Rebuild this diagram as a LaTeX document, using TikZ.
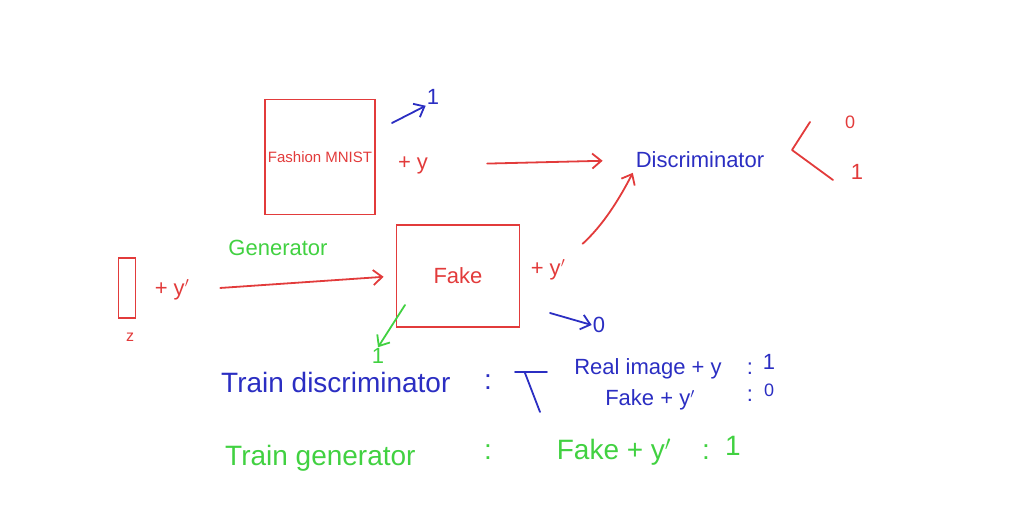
\documentclass[tikz,border=0pt]{standalone}
\usepackage{fontspec}
\setmainfont{Liberation Sans}
\usepackage{xcolor}
\definecolor{penred}{HTML}{E23B3B}
\definecolor{penblue}{HTML}{2B2EC2}
\definecolor{pengreen}{HTML}{41D141}
\usepackage{tikz}
\usetikzlibrary{arrows.meta, calc}

\begin{document}
\begin{tikzpicture}[
    x=1pt, y=-1pt,
    box/.style={draw=penred, line width=1.8pt, rectangle, inner sep=2pt},
    txt/.style={font=\fontsize{22}{26}\selectfont, inner sep=1pt},
    big/.style={font=\fontsize{28}{32}\selectfont, inner sep=1pt},
    arrow/.style={-{Straight Barb[length=9pt, width=15pt]}, line width=1.8pt, line cap=round},
    stroke/.style={line width=1.8pt, line cap=round}
  ]
    \useasboundingbox (0,0) rectangle (1024,521);

    \node[box, minimum width=110, minimum height=115, text=penred,
          font=\fontsize{15}{17}\selectfont] (mnist) at (320,157) {Fashion MNIST};
    \node[txt, text=penred] (realy) at (413,165) {+ y};
    \node[txt, text=penblue] (realone) at (433,97) {1};
    \coordinate (realstart) at (392,123);

    \node[txt, text=penblue] (disc) at (700,160) {Discriminator};
    \coordinate (fork) at (792,150);
    \node[txt, text=penred, font=\fontsize{18}{20}\selectfont] (outzero) at (850,122) {0};
    \node[txt, text=penred] (outone) at (857,172) {1};

    \node[box, minimum width=17, minimum height=60] (zvec) at (127,288) {};
    \node[txt, text=penred, font=\fontsize{16}{18}\selectfont] (zlbl) at (130,337) {z};
    \node[txt, text=penred] (zy) at (172,290) {+ y$'$};
    \node[txt, text=pengreen] (gen) at (278,248) {Generator};

    \node[box, minimum width=123, minimum height=102, text=penred,
          font=\fontsize{22}{26}\selectfont] (fake) at (458,276) {Fake};
    \node[txt, text=penred] (fakey) at (548,270) {+ y$'$};
    \node[txt, text=penblue] (fakezero) at (599,325) {0};
    \coordinate (zerostart) at (550,313);
    \node[txt, text=pengreen] (fakeone) at (378,356) {1};
    \coordinate (onestart) at (405,305);

    \draw[arrow, penblue] (realstart) -- (realone.south west);
    \draw[arrow, penred, shorten <=58pt, shorten >=32pt] (realy.east) -- (disc.west);
    \draw[stroke, penred] (fork) -- ++(18,-28) (fork) -- ++(41,30);
    \draw[arrow, penred, shorten <=30pt, shorten >=12pt] (zy.east) -- (fake.west);
    \draw[arrow, penred, shorten <=22pt, shorten >=4pt] (fakey.north east) to[bend right=10] (disc.south west);
    \draw[arrow, penblue] (zerostart) -- (fakezero.west);
    \draw[arrow, pengreen] (onestart) -- (fakeone.north);

    \node[big, text=penblue, anchor=west] (traind) at (220,382) {Train discriminator};
    \node[big, text=penblue] (colond) at (488,382) {:};
    \coordinate (brtop) at (515,372);
    \draw[stroke, penblue] (brtop) -- ++(32,0) (brtop) ++(10,1) -- ++(15,39);
    \node[txt, text=penblue] (realrow) at (648,369) {Real image + y};
    \node[txt, text=penblue] (realcolon) at (750,369) {:};
    \node[txt, text=penblue] (realval) at (769,362) {1};
    \node[txt, text=penblue] (fakerow) at (650,400) {Fake + y$'$};
    \node[txt, text=penblue] (fakecolon) at (750,396) {:};
    \node[txt, text=penblue, font=\fontsize{18}{20}\selectfont] (fakeval) at (769,390) {0};

    \node[big, text=pengreen, anchor=west] (traing) at (224,458) {Train generator};
    \node[big, text=pengreen] (colong) at (488,452) {:};
    \node[big, text=pengreen] (genrow) at (614,452) {Fake + y$'$};
    \node[big, text=pengreen] (gencolon) at (706,452) {:};
    \node[big, text=pengreen] (genval) at (733,446) {1};
  \end{tikzpicture}
\end{document}
